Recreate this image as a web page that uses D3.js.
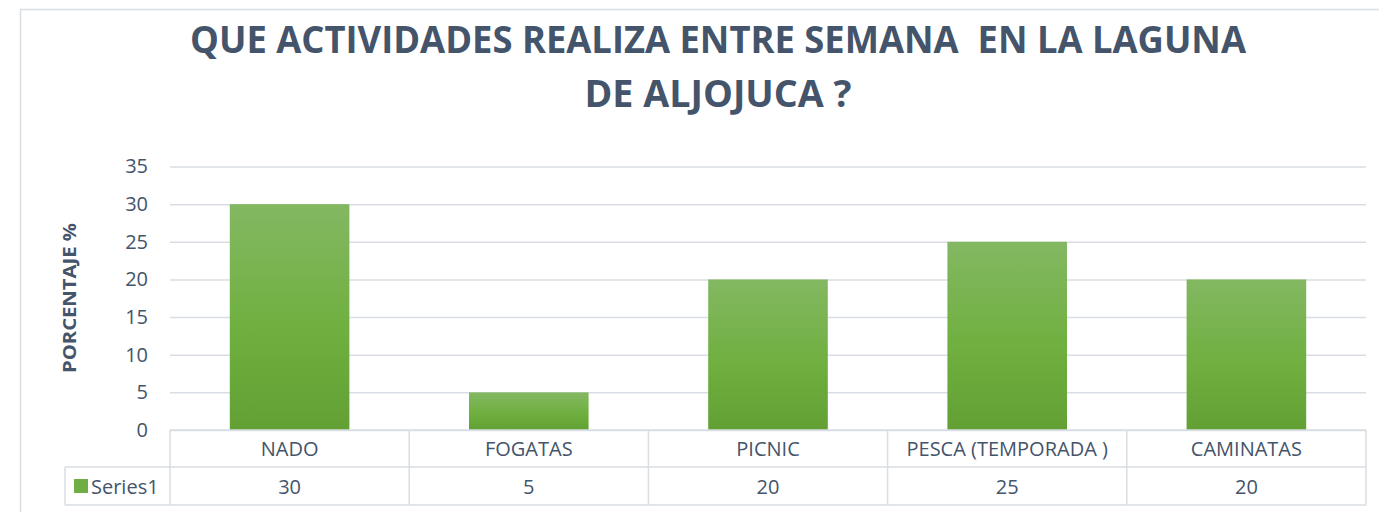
<!DOCTYPE html>
<html>
<head>
<meta charset="utf-8">
<script src="https://cdn.jsdelivr.net/npm/d3@7"></script>
<style>
  body { margin: 0; background: #fff; }
  svg { display: block; font-family: "Open Sans", "Noto Sans", sans-serif; }
</style>
</head>
<body>
<script>
// chart data
var categories = ["NADO", "FOGATAS", "PICNIC", "PESCA (TEMPORADA )", "CAMINATAS"];
var values = [30, 5, 20, 25, 20];
var seriesName = "Series1";
var yTicks = [0, 5, 10, 15, 20, 25, 30, 35];
var titleLines = ["QUE ACTIVIDADES REALIZA ENTRE SEMANA  EN LA LAGUNA", "DE ALJOJUCA ?"];
var yLabel = "PORCENTAJE %";

var W = 1379, H = 512;
var textColor = "#44546A";
var lineColor = "#D9DEE5";

var svg = d3.select("body").append("svg")
  .attr("width", W)
  .attr("height", H);

// gradient for the bars
var grad = svg.append("defs").append("linearGradient")
  .attr("id", "barGrad")
  .attr("x1", 0).attr("y1", 0).attr("x2", 0).attr("y2", 1);
grad.append("stop").attr("offset", "0%").attr("stop-color", "#83B862");
grad.append("stop").attr("offset", "55%").attr("stop-color", "#6FB040");
grad.append("stop").attr("offset", "100%").attr("stop-color", "#62A033");

// chart area border (runs off the right and bottom edge)
svg.append("path")
  .attr("d", "M20.5," + (H + 5) + "V9.5H" + (W + 5))
  .attr("fill", "none")
  .attr("stroke", lineColor)
  .attr("stroke-width", 1.5);

// squeeze a text to a given width
function fitWidth(sel, w) {
  var len = sel.node().getComputedTextLength();
  if (len > 0) sel.attr("textLength", w).attr("lengthAdjust", "spacingAndGlyphs");
}

// title
var titleW = [1056, 267];
titleLines.forEach(function(t, i) {
  var tx = svg.append("text")
    .attr("x", 718)
    .attr("y", 53 + i * 54)
    .attr("text-anchor", "middle")
    .attr("font-weight", "bold")
    .attr("font-size", 37)
    .attr("fill", textColor)
    .style("white-space", "pre")
    .text(t);
  fitWidth(tx, titleW[i]);
});

// scales
var x = d3.scaleBand()
  .domain(categories)
  .range([170, 1366])
  .paddingInner(0.5)
  .paddingOuter(0.25);

var y = d3.scaleLinear()
  .domain([0, 35])
  .range([430, 166.5]);

// gridlines
svg.append("g")
  .attr("transform", "translate(170,0)")
  .call(d3.axisLeft(y).tickValues(yTicks).tickSize(-1196).tickFormat(""))
  .call(function(g) {
    g.select(".domain").remove();
    g.selectAll("line").attr("stroke", lineColor).attr("stroke-width", 1.5);
  });

// y tick labels
svg.append("g")
  .attr("transform", "translate(148,0)")
  .call(d3.axisLeft(y).tickValues(yTicks).tickSize(0).tickPadding(0))
  .call(function(g) {
    g.select(".domain").remove();
    g.selectAll("text")
      .attr("font-size", 20)
      .attr("font-family", "Open Sans, sans-serif")
      .attr("fill", textColor);
  });

// y axis title
var yl = svg.append("text")
  .attr("transform", "translate(76,298) rotate(-90)")
  .attr("text-anchor", "middle")
  .attr("font-weight", "bold")
  .attr("font-size", 18)
  .attr("fill", textColor)
  .text(yLabel);
fitWidth(yl, 150);

// bars
svg.selectAll("rect.bar")
  .data(values)
  .enter()
  .append("rect")
  .attr("class", "bar")
  .attr("x", function(d, i) { return x(categories[i]); })
  .attr("width", x.bandwidth())
  .attr("y", function(d) { return y(d); })
  .attr("height", function(d) { return y(0) - y(d); })
  .attr("fill", "url(#barGrad)");

// data table
var step = x.step();
var rowTop = 430, rowMid = 467, rowBot = 505, tableLeft = 65;
var table = svg.append("g")
  .attr("stroke", lineColor)
  .attr("stroke-width", 1.5)
  .attr("fill", "none");

table.append("line").attr("x1", 170).attr("x2", 1366).attr("y1", rowTop).attr("y2", rowTop);
table.append("line").attr("x1", tableLeft).attr("x2", 1366).attr("y1", rowMid).attr("y2", rowMid);
table.append("line").attr("x1", tableLeft).attr("x2", 1366).attr("y1", rowBot).attr("y2", rowBot);
table.append("line").attr("x1", tableLeft).attr("x2", tableLeft).attr("y1", rowMid).attr("y2", rowBot);

d3.range(categories.length + 1).forEach(function(i) {
  table.append("line")
    .attr("x1", 170 + i * step).attr("x2", 170 + i * step)
    .attr("y1", rowTop).attr("y2", rowBot);
});

svg.selectAll("text.cat")
  .data(categories)
  .enter()
  .append("text")
  .attr("class", "cat")
  .attr("x", function(d) { return x(d) + x.bandwidth() / 2; })
  .attr("y", 456)
  .attr("text-anchor", "middle")
  .attr("font-size", 20)
  .attr("fill", textColor)
  .text(function(d) { return d; });

svg.selectAll("text.val")
  .data(values)
  .enter()
  .append("text")
  .attr("class", "val")
  .attr("x", function(d, i) { return x(categories[i]) + x.bandwidth() / 2; })
  .attr("y", 494)
  .attr("text-anchor", "middle")
  .attr("font-size", 20)
  .attr("fill", textColor)
  .text(function(d) { return d; });

// legend key in table
svg.append("rect")
  .attr("x", 74).attr("y", 479)
  .attr("width", 14).attr("height", 14)
  .attr("fill", "#6FAD45");
svg.append("text")
  .attr("x", 91).attr("y", 494)
  .attr("font-size", 20)
  .attr("fill", textColor)
  .text(seriesName);
</script>
</body>
</html>
